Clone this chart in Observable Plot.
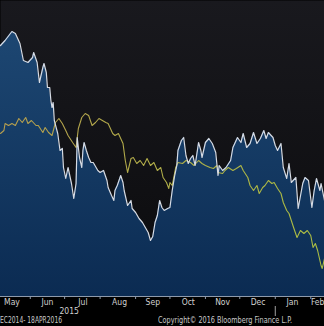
<!DOCTYPE html>
<html><head><meta charset="utf-8">
<script src="https://cdn.jsdelivr.net/npm/d3@7"></script>
<script src="https://cdn.jsdelivr.net/npm/@observablehq/plot@0.6"></script>
<style>
html,body{margin:0;padding:0;background:#000;overflow:hidden;width:324px;height:326px;}
#wrap{position:relative;width:324px;height:326px;overflow:hidden;}
#chart{position:absolute;left:0;top:0;}
.foot{position:absolute;top:314px;height:12px;line-height:12px;font-size:8.5px;font-family:"Liberation Sans Narrow","Arial Narrow","DejaVu Sans Condensed",sans-serif;color:#c9c9c9;white-space:nowrap;transform-origin:0 50%;}
</style></head><body>
<svg width="0" height="0" style="position:absolute">
<defs>
<linearGradient id="bgGrad" x1="0" y1="0" x2="0" y2="296" gradientUnits="userSpaceOnUse">
<stop offset="0" stop-color="#19191e"/><stop offset="1" stop-color="#0b0b0d"/>
</linearGradient>
<linearGradient id="areaGrad" x1="0" y1="0" x2="0" y2="296" gradientUnits="userSpaceOnUse">
<stop offset="0" stop-color="#1f4a76"/><stop offset="1" stop-color="#0b2b52"/>
</linearGradient>
<linearGradient id="yelGrad" x1="0" y1="0" x2="324" y2="0" gradientUnits="userSpaceOnUse">
<stop offset="0" stop-color="#b59d4e"/><stop offset="1" stop-color="#aabd42"/>
</linearGradient>
</defs>
</svg>
<div id="wrap">
<div id="chart"></div>
<div class="foot" id="footL" style="left:0" data-w="62">EC2014- 18APR2016</div>
<div class="foot" id="footR" style="left:158px" data-w="134">Copyright© 2016 Bloomberg Finance L.P.</div>
</div>
<script>
const xStart = "2015-05-06";
const xEnd = "2016-02-13";

const whiteDates = ["2015-05-06","2015-05-10","2015-05-16","2015-05-19","2015-05-23","2015-05-26","2015-05-30","2015-06-03","2015-06-04","2015-06-07",
"2015-06-09","2015-06-12","2015-06-13","2015-06-15","2015-06-16","2015-06-18","2015-06-19","2015-06-20","2015-06-21","2015-06-22",
"2015-06-25","2015-06-27","2015-06-29","2015-06-30","2015-07-02","2015-07-04","2015-07-07","2015-07-09","2015-07-11","2015-07-12",
"2015-07-14","2015-07-16","2015-07-17","2015-07-18","2015-07-20","2015-07-22","2015-07-24","2015-07-26","2015-07-30","2015-08-01",
"2015-08-04","2015-08-07","2015-08-08","2015-08-11","2015-08-13","2015-08-14","2015-08-16","2015-08-19","2015-08-21","2015-08-22",
"2015-08-25","2015-08-28","2015-08-29","2015-09-01","2015-09-04","2015-09-07","2015-09-10","2015-09-12","2015-09-14","2015-09-16",
"2015-09-18","2015-09-20","2015-09-22","2015-09-24","2015-09-26","2015-09-29","2015-10-01","2015-10-03","2015-10-05","2015-10-07",
"2015-10-08","2015-10-11","2015-10-13","2015-10-15","2015-10-17","2015-10-19","2015-10-21","2015-10-23","2015-10-26","2015-10-28",
"2015-10-29","2015-11-01","2015-11-04","2015-11-07","2015-11-10","2015-11-12","2015-11-13","2015-11-16","2015-11-19","2015-11-23",
"2015-11-25","2015-11-27","2015-11-29","2015-12-02","2015-12-04","2015-12-07","2015-12-10","2015-12-13","2015-12-16","2015-12-19",
"2015-12-22","2015-12-24","2015-12-26","2015-12-30","2016-01-01","2016-01-03","2016-01-06","2016-01-08","2016-01-11","2016-01-13",
"2016-01-15","2016-01-19","2016-01-21","2016-01-25","2016-01-27","2016-01-30","2016-02-02","2016-02-04","2016-02-06","2016-02-09",
"2016-02-10","2016-02-13"];
const whiteValues = [251,256,265,263,253,236,234,239,244,234,
214,229,233,224,209,209,196,189,194,176,
163,146,148,129,118,129,113,98,113,159,
139,129,146,154,146,139,134,134,126,124,
126,116,109,101,96,106,111,121,114,106,
91,96,88,84,78,74,68,64,56,60,
74,81,96,89,86,88,89,106,120,131,
146,156,159,141,133,138,141,131,154,146,
139,154,158,153,144,121,131,126,129,136,
149,154,159,154,163,149,153,164,153,158,
166,158,164,159,151,146,153,129,118,133,
114,119,88,113,119,116,89,106,118,106,
113,96];

const yellowDates = ["2015-05-06","2015-05-09","2015-05-10","2015-05-13","2015-05-16","2015-05-19","2015-05-22","2015-05-25","2015-05-28","2015-05-30",
"2015-06-02","2015-06-06","2015-06-08","2015-06-12","2015-06-14","2015-06-17","2015-06-20","2015-06-23","2015-06-26","2015-06-29",
"2015-07-02","2015-07-04","2015-07-08","2015-07-11","2015-07-13","2015-07-16","2015-07-19","2015-07-22","2015-07-25","2015-07-28",
"2015-07-31","2015-08-03","2015-08-06","2015-08-08","2015-08-12","2015-08-14","2015-08-17","2015-08-21","2015-08-23","2015-08-25",
"2015-08-28","2015-08-30","2015-09-02","2015-09-05","2015-09-08","2015-09-11","2015-09-14","2015-09-17","2015-09-20","2015-09-23",
"2015-09-25","2015-09-28","2015-09-30","2015-10-01","2015-10-03","2015-10-06","2015-10-08","2015-10-12","2015-10-15","2015-10-19",
"2015-10-22","2015-10-26","2015-10-29","2015-11-01","2015-11-05","2015-11-08","2015-11-11","2015-11-12","2015-11-16","2015-11-18",
"2015-11-21","2015-11-25","2015-11-28","2015-12-02","2015-12-04","2015-12-08","2015-12-10","2015-12-13","2015-12-16","2015-12-18",
"2015-12-21","2015-12-23","2015-12-26","2015-12-29","2015-12-31","2016-01-03","2016-01-06","2016-01-08","2016-01-11","2016-01-13",
"2016-01-15","2016-01-17","2016-01-20","2016-01-23","2016-01-26","2016-01-29","2016-02-01","2016-02-03","2016-02-05","2016-02-07",
"2016-02-10","2016-02-11","2016-02-13"];
const yellowValues = [163,166,173,171,173,171,178,174,179,173,
176,171,171,164,169,164,161,174,178,173,
166,161,154,149,168,179,183,181,171,174,
178,176,174,173,163,161,163,153,136,124,
138,139,133,136,131,138,131,134,126,129,
119,114,108,114,111,129,134,133,136,134,
131,136,133,131,129,128,131,124,123,126,
129,126,128,131,126,119,111,106,111,103,
109,111,116,113,114,108,103,94,86,83,
76,69,59,66,63,66,61,49,53,46,
31,28,38];

const monthStarts = ["2015-06-01","2015-07-01","2015-08-01","2015-09-01","2015-10-01","2015-11-01","2015-12-01","2016-01-01","2016-02-01"];
const monthNames = ["May","Jun","Jul","Aug","Sep","Oct","Nov","Dec","Jan","Feb"];
const monthMids = ["2015-05-16","2015-06-16","2015-07-17","2015-08-18","2015-09-16","2015-10-17","2015-11-16","2015-12-17","2016-01-16","2016-02-07"];
const yearLabels = ["2015"];
const yearLabelDates = ["2015-07-05"];
const yearBreaks = ["2016-01-01"];

const parse = d3.utcParse("%Y-%m-%d");
const white = whiteDates.map((d, i) => ({date: parse(d), value: whiteValues[i]}));
const yellow = yellowDates.map((d, i) => ({date: parse(d), value: yellowValues[i]}));
const months = monthNames.map((name, i) => ({date: parse(monthMids[i]), name}));
const years = yearLabels.map((name, i) => ({date: parse(yearLabelDates[i]), name}));
const FONT = '"Liberation Sans Narrow","Arial Narrow","DejaVu Sans Condensed",sans-serif';

const chart = Plot.plot({
  width: 324, height: 326,
  marginTop: 0, marginRight: 0, marginBottom: 30, marginLeft: 0,
  x: {type: "utc", domain: [parse(xStart), parse(xEnd)], axis: null},
  y: {domain: [0, 296], axis: null},
  style: {background: "transparent", fontFamily: FONT, fontSize: "8.5px", color: "#d0d0d0"},
  marks: [
    Plot.frame({fill: "url(#bgGrad)", stroke: null}),
    Plot.areaY(white, {x: "date", y: "value", fill: "url(#areaGrad)"}),
    Plot.lineY(yellow, {x: "date", y: "value", stroke: "url(#yelGrad)", strokeWidth: 1.1}),
    Plot.lineY(white, {x: "date", y: "value", stroke: "#d6dbe4", strokeWidth: 1.2}),
    Plot.ruleY([0], {stroke: "#8e9aab", strokeWidth: 1}),
    Plot.axisX({ticks: monthStarts.map(parse), tickSize: 3, tickFormat: () => "", stroke: "#8e9aab"}),
    Plot.text(months, {x: "date", text: "name", frameAnchor: "bottom", lineAnchor: "top", dy: 2.5, fill: "#d0d0d0"}),
    Plot.text(years, {x: "date", text: "name", frameAnchor: "bottom", lineAnchor: "top", dy: 11, fill: "#d0d0d0"}),
    Plot.ruleX(yearBreaks.map(parse), {y1: -10, y2: -20, stroke: "#a0a0a0"})
  ]
});
document.getElementById("chart").appendChild(chart);

// condense footer texts to the narrow widths of the original
for (const el of document.querySelectorAll(".foot")) {
  const target = +el.dataset.w;
  const w = el.getBoundingClientRect().width;
  if (w > target) el.style.transform = `scaleX(${target / w})`;
}
</script>
</body></html>
